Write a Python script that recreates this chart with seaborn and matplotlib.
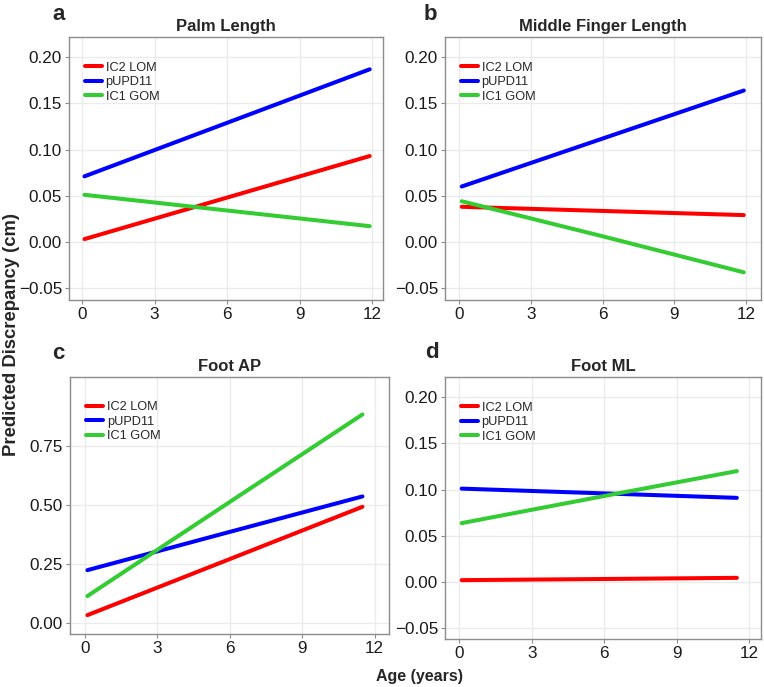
import matplotlib
matplotlib.use("Agg")
import matplotlib.pyplot as plt
import seaborn as sns
import pandas as pd

sns.set_theme(style="white")
plt.rcParams['font.family'] = ['Liberation Sans', 'DejaVu Sans']

groups = ["IC2 LOM", "pUPD11", "IC1 GOM"]
colors = {"IC2 LOM": "#FF0000", "pUPD11": "#0000FF", "IC1 GOM": "#33CC33"}

panel_letters = ["a", "b", "c", "d"]
panel_titles = ["Palm Length", "Middle Finger Length", "Foot AP", "Foot ML"]

# ages at which predictions are drawn (start, middle, end)
age_ab = [0.1, 6.0, 11.9]
age_cd = [0.1, 5.8, 11.5]

palm_ic2 = [0.003, 0.048, 0.093]
palm_pupd = [0.071, 0.129, 0.187]
palm_ic1 = [0.051, 0.034, 0.017]

mid_ic2 = [0.038, 0.0335, 0.029]
mid_pupd = [0.060, 0.112, 0.164]
mid_ic1 = [0.044, 0.006, -0.033]

ap_ic2 = [0.032, 0.262, 0.492]
ap_pupd = [0.223, 0.380, 0.536]
ap_ic1 = [0.113, 0.499, 0.884]

ml_ic2 = [0.0018, 0.003, 0.0043]
ml_pupd = [0.101, 0.096, 0.091]
ml_ic1 = [0.0636, 0.092, 0.120]

yticks_small = [-0.05, 0.00, 0.05, 0.10, 0.15, 0.20]
yticks_ap = [0.00, 0.25, 0.50, 0.75]
xticks = [0, 3, 6, 9, 12]

panels = [
    (age_ab, [palm_ic2, palm_pupd, palm_ic1]),
    (age_ab, [mid_ic2, mid_pupd, mid_ic1]),
    (age_cd, [ap_ic2, ap_pupd, ap_ic1]),
    (age_cd, [ml_ic2, ml_pupd, ml_ic1]),
]

W, H = 764, 687
fig = plt.figure(figsize=(W / 100, H / 100), dpi=100)

# axes boxes in pixels: left, right, top, bottom
boxes = [(69, 383, 37, 300), (445, 761, 37, 300), (70, 389, 377, 634), (445, 761, 377, 639)]
xlims = [(-0.54, 12.45), (-0.6, 12.62), (-0.62, 12.6), (-0.59, 12.5)]
ylims = [(-0.063, 0.222), (-0.063, 0.222), (-0.048, 1.043), (-0.062, 0.222)]
letter_pos = [(52, 14), (424, 14), (52, 353), (425, 352)]

for i, ((ages, series), (l, r, t, b)) in enumerate(zip(panels, boxes)):
    ax = fig.add_axes([l / W, 1 - b / H, (r - l) / W, (b - t) / H])
    rows = []
    for g, vals in zip(groups, series):
        for a, v in zip(ages, vals):
            rows.append({"Age": a, "Value": v, "Group": g})
    df = pd.DataFrame(rows)
    sns.lineplot(data=df, x="Age", y="Value", hue="Group", hue_order=groups,
                 palette=colors, linewidth=2.9, ax=ax, legend=True)
    ax.set_xlim(*xlims[i])
    ax.set_ylim(*ylims[i])
    ax.set_xticks(xticks)
    yt = yticks_ap if i == 2 else yticks_small
    ax.set_yticks(yt)
    ax.set_yticklabels([f"{v:.2f}".replace("-", "\u2212") for v in yt])
    ax.set_xlabel("")
    ax.set_ylabel("")
    ax.grid(True, color="#EBEBEB", linewidth=1.0)
    ax.set_axisbelow(True)
    for s in ax.spines.values():
        s.set_color("#8C8C8C")
        s.set_linewidth(1.0)
    ax.tick_params(axis="both", which="both", length=3, width=0.8, color="#8C8C8C",
                   labelsize=12.3, labelcolor="#1A1A1A", pad=2, bottom=True, left=True)
    ax.set_title(panel_titles[i], fontsize=12, fontweight="bold", pad=4)
    leg = ax.legend(loc="upper left", bbox_to_anchor=(0.035, 0.925), frameon=False,
                    fontsize=9.2, handlelength=1.3, handletextpad=0.3,
                    labelspacing=0.2, borderaxespad=0)
    lx, ly = letter_pos[i]
    fig.text((lx) / W, 1 - ly / H, panel_letters[i], fontsize=16, fontweight="bold",
             ha="left", va="center")

fig.text(12 / W, 1 - 335 / H, "Predicted Discrepancy (cm)", rotation=90, fontsize=13.3,
         fontweight="bold", ha="center", va="center")
fig.text(419 / W, 1 - 676 / H, "Age (years)", fontsize=11.5, fontweight="bold",
         ha="center", va="center")

fig.savefig("out.png", dpi=100)
